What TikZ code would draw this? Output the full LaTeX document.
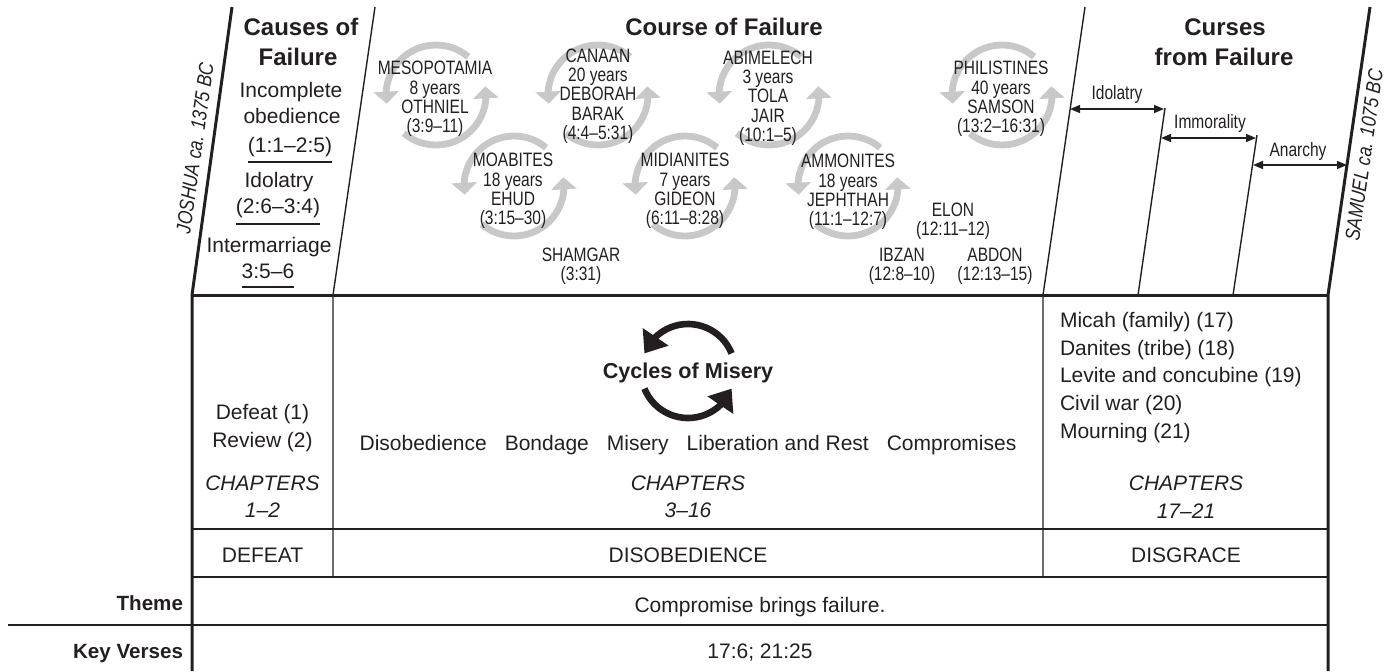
\documentclass[tikz,border=0pt]{standalone}
\usepackage{fontspec}
\setmainfont{Liberation Sans}
\newfontfamily\cond[FakeStretch=0.80]{Liberation Sans}
\newfontfamily\conde[FakeStretch=0.84]{Liberation Sans}
\usetikzlibrary{arrows.meta,bending}
\definecolor{cycgray}{RGB}{200,200,200}
\definecolor{ink}{RGB}{35,31,32}
\newcommand\grcycle[2]{%
  \draw[cycarr] (#1,#2) ++(50:50) arc[start angle=50,end angle=190,radius=50];
  \draw[cycarr] (#1,#2) ++(230:50) arc[start angle=230,end angle=370,radius=50];}
\begin{document}
\begin{tikzpicture}[x=0.5pt,y=0.5pt,
  every node/.style={inner sep=0pt, outer sep=0pt, text=ink},
  bodytxt/.style={font=\fontsize{10.5pt}{13.9pt}\selectfont, anchor=base},
  bodyit/.style={font=\itshape\fontsize{10.5pt}{13.9pt}\selectfont, anchor=base},
  titletxt/.style={font=\bfseries\fontsize{12pt}{15pt}\selectfont, anchor=base},
  rowlab/.style={font=\bfseries\fontsize{10.3pt}{12pt}\selectfont, anchor=base east},
  cnd/.style={font=\cond\fontsize{9.7pt}{9.65pt}\selectfont, align=center},
  cndlab/.style={font=\cond\fontsize{9.7pt}{11pt}\selectfont, anchor=base},
  eratxt/.style={font=\conde\itshape\fontsize{10.3pt}{12pt}\selectfont, rotate=82},
  thickline/.style={line width=1.5pt, draw=ink},
  thinline/.style={line width=0.7pt, draw=ink},
  cycarr/.style={draw=cycgray, line width=3.4pt, -{Triangle[width=12.5pt,length=6pt]}},
  bigarr/.style={draw=ink, line width=3.3pt, -{Triangle[width=15pt,length=10pt]}},
  spanarr/.style={line width=0.7pt, draw=ink, {Triangle[width=4pt,length=5pt]}-{Triangle[width=4pt,length=5pt]}},
  uline/.style={line width=0.55pt, draw=ink},
]
\useasboundingbox (0,0) rectangle (1396,-671);

% key points
\coordinate (jtop) at (232,-7);   \coordinate (jbot) at (192,-295);  \coordinate (tl) at (192,-671);
\coordinate (stop) at (1370,-7);  \coordinate (sbot) at (1328,-295); \coordinate (tr) at (1328,-671);
\coordinate (d1top) at (375,-7);  \coordinate (d1bot) at (333,-295); \coordinate (d1end) at (333,-577);
\coordinate (d2top) at (1085,-7); \coordinate (d2bot) at (1043,-295); \coordinate (d2end) at (1043,-577);
\coordinate (e1top) at (1165,-108); \coordinate (e1bot) at (1138,-295);
\coordinate (e2top) at (1257,-135); \coordinate (e2bot) at (1233,-295);
\coordinate (r1l) at (192,-529); \coordinate (r1r) at (1328,-529);
\coordinate (r2l) at (192,-577); \coordinate (r2r) at (1328,-577);
\coordinate (r3l) at (8,-625);   \coordinate (r3r) at (1328,-625);

% frame
\draw[thinline] (d1top) -- (d1bot) -- (d1end);
\draw[thinline] (d2top) -- (d2bot) -- (d2end);
\draw[thinline] (e1top) -- (e1bot);
\draw[thinline] (e2top) -- (e2bot);
\draw[thinline] (r1l) -- (r1r);
\draw[thinline] (r2l) -- (r2r);
\draw[thinline] (r3l) -- (r3r);
\draw[thickline] (jtop) -- (jbot) -- (tl);
\draw[thickline] (stop) -- (sbot) -- (tr);
\draw[thickline] (jbot) -- (sbot);

% era labels
\node[eratxt] (josh) at (195,-148) {JOSHUA ca. 1375 BC};
\node[eratxt] (sam) at (1364,-155) {SAMUEL ca. 1075 BC};

% Causes of Failure
\node[titletxt] (cau1) at (301,-35) {Causes of};
\node[titletxt] (cau2) at (298,-65) {Failure};
\node[bodytxt] (inc1) at (291,-97) {Incomplete};
\node[bodytxt] (inc2) at (292,-123) {obedience};
\node[bodytxt] (inc3) at (290,-152) {(1:1–2:5)};
\node[bodytxt] (ido1) at (279,-187) {Idolatry};
\node[bodytxt] (ido2) at (278,-213) {(2:6–3:4)};
\node[bodytxt] (int1) at (269,-252) {Intermarriage};
\node[bodytxt] (int2) at (268,-278) {3:5–6};
\draw[uline] ([yshift=-5pt]inc3.base west) -- ([yshift=-5pt]inc3.base east);
\draw[uline] ([yshift=-5.5pt]ido2.base west) -- ([yshift=-5.5pt]ido2.base east);
\draw[uline] ([yshift=-4.5pt]int2.base west) -- ([yshift=-4.5pt]int2.base east);

% Course of Failure
\node[titletxt] (cou) at (724,-35) {Course of Failure};
\grcycle{436}{-95}
\grcycle{598}{-95}
\grcycle{769}{-95}
\grcycle{1002}{-95}
\grcycle{514}{-186}
\grcycle{685}{-186}
\grcycle{848}{-186}
\node[cnd] (mes) at (435,-99) {MESOPOTAMIA\\8 years\\OTHNIEL\\(3:9–11)};
\node[cnd] (can) at (598,-96) {CANAAN\\20 years\\DEBORAH\\BARAK\\(4:4–5:31)};
\node[cnd] (abi) at (768,-98) {ABIMELECH\\3 years\\TOLA\\JAIR\\(10:1–5)};
\node[cnd] (phi) at (1001,-99) {PHILISTINES\\40 years\\SAMSON\\(13:2–16:31)};
\node[cnd] (moa) at (513,-191) {MOABITES\\18 years\\EHUD\\(3:15–30)};
\node[cnd] (mid) at (685,-191) {MIDIANITES\\7 years\\GIDEON\\(6:11–8:28)};
\node[cnd] (amm) at (848,-192) {AMMONITES\\18 years\\JEPHTHAH\\(11:1–12:7)};
\node[cnd] (sha) at (581,-266) {SHAMGAR\\(3:31)};
\node[cnd] (elo) at (953,-221) {ELON\\(12:11–12)};
\node[cnd] (ibz) at (902,-266) {IBZAN\\(12:8–10)};
\node[cnd] (abd) at (995,-266) {ABDON\\(12:13–15)};

% Curses from Failure
\node[titletxt] (cur1) at (1225,-35) {Curses};
\node[titletxt] (cur2) at (1224,-65) {from Failure};
\node[cndlab] (lid) at (1117,-99) {Idolatry};
\node[cndlab] (lim) at (1210,-128) {Immorality};
\node[cndlab] (lan) at (1298,-156) {Anarchy};
\coordinate (a1) at (1070,-109); \coordinate (a2) at (1164,-109);
\coordinate (b1) at (1161,-138); \coordinate (b2) at (1256,-138);
\coordinate (c1) at (1253,-165); \coordinate (c2) at (1347,-165);
\draw[spanarr] (a1) -- (a2);
\draw[spanarr] (b1) -- (b2);
\draw[spanarr] (c1) -- (c2);

% table: left column
\node[bodytxt] (def1) at (262.5,-419) {Defeat (1)};
\node[bodytxt] (def2) at (262.5,-447) {Review (2)};
\node[bodyit] (ch1a) at (262.5,-490) {CHAPTERS};
\node[bodyit] (ch1b) at (262.5,-517) {1–2};
\node[bodytxt] (defeat) at (262.5,-562) {DEFEAT};

% middle column
\draw[bigarr] (688,-371) ++(22:47) arc[start angle=22,end angle=158,radius=47];
\draw[bigarr] (688,-371) ++(202:47) arc[start angle=202,end angle=338,radius=47];
\node[font=\bfseries\fontsize{10.8pt}{13pt}\selectfont, anchor=base] (cyc) at (688,-378) {Cycles of Misery};
\node[bodytxt] (steps) at (688,-450) {Disobedience\hspace{9pt}Bondage\hspace{9pt}Misery\hspace{9pt}Liberation and Rest\hspace{9pt}Compromises};
\node[bodyit] (ch2a) at (688,-490) {CHAPTERS};
\node[bodyit] (ch2b) at (688,-517) {3–16};
\node[bodytxt] (disob) at (688,-562) {DISOBEDIENCE};

% right column
\node[bodytxt, anchor=base west] (m1) at (1060,-327) {Micah (family) (17)};
\node[bodytxt, anchor=base west] (m2) at (1060,-355) {Danites (tribe) (18)};
\node[bodytxt, anchor=base west] (m3) at (1060,-382) {Levite and concubine (19)};
\node[bodytxt, anchor=base west] (m4) at (1060,-410) {Civil war (20)};
\node[bodytxt, anchor=base west] (m5) at (1060,-438) {Mourning (21)};
\node[bodyit] (ch3a) at (1186,-490) {CHAPTERS};
\node[bodyit] (ch3b) at (1186,-518) {17–21};
\node[bodytxt] (disgr) at (1186,-562) {DISGRACE};

% bottom rows
\node[rowlab] (theme) at (183,-610) {Theme};
\node[rowlab] (keyv) at (183,-658) {Key Verses};
\node[bodytxt] (themet) at (760,-612) {Compromise brings failure.};
\node[bodytxt] (keyvt) at (760,-658) {17:6; 21:25};
\end{tikzpicture}
\end{document}
